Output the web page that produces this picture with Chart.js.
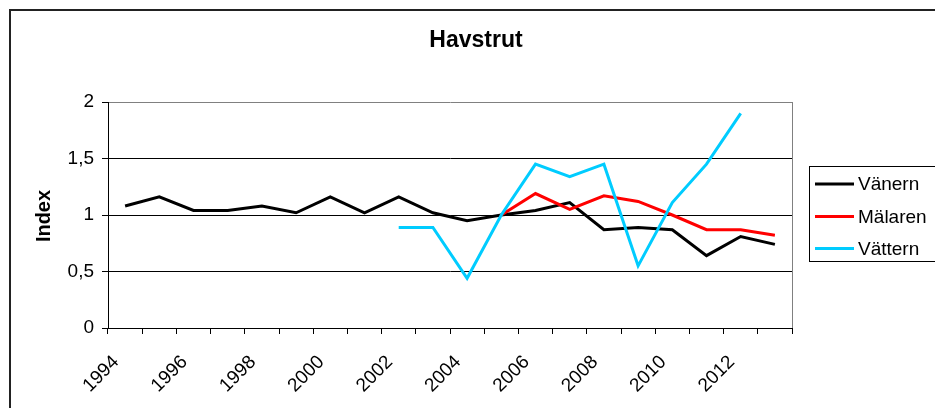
<!DOCTYPE html>
<html>
<head>
<meta charset="utf-8">
<script src="https://cdn.jsdelivr.net/npm/chart.js@4/dist/chart.umd.min.js"></script>
<style>
  html, body { margin: 0; padding: 0; background: #fff; }
  #wrap { width: 935px; height: 408px; }
</style>
</head>
<body>
<div id="wrap"><canvas id="havstrutChart" width="935" height="408"></canvas></div>
<script>
// Havstrut - index per sjö, 1994-2013

var years = ['1994', '1995', '1996', '1997', '1998', '1999', '2000', '2001', '2002', '2003',
             '2004', '2005', '2006', '2007', '2008', '2009', '2010', '2011', '2012', '2013'];

var vanern = [1.08, 1.16, 1.04, 1.04, 1.08, 1.02, 1.16, 1.02, 1.16, 1.02,
              0.95, 1.00, 1.04, 1.11, 0.87, 0.89, 0.87, 0.64, 0.81, 0.74];

var malaren = [null, null, null, null, null, null, null, null, null, null,
               null, 1.00, 1.19, 1.05, 1.17, 1.12, 1.00, 0.87, 0.87, 0.82];

var vattern = [null, null, null, null, null, null, null, null, 0.89, 0.89,
               0.44, 1.00, 1.45, 1.34, 1.45, 0.55, 1.11, 1.45, 1.90, null];

var seriesNames = ['Vänern', 'Mälaren', 'Vättern'];
var seriesColors = ['#000000', '#ff0000', '#00ccff'];
var yTicks = [0, 0.5, 1, 1.5, 2];

var FONT = "'Liberation Sans', Arial, sans-serif";

// ram, titel, y-axelns titel och förklaring
var decorPlugin = {
    id: 'decor',
    afterDraw: function (chart) {
        var ctx = chart.ctx;
        var area = chart.chartArea;
        ctx.save();

        // plotytans högra kant
        ctx.strokeStyle = '#808080';
        ctx.lineWidth = 1;
        ctx.beginPath();
        ctx.moveTo(area.right + 0.5, area.top);
        ctx.lineTo(area.right + 0.5, area.bottom);
        ctx.stroke();

        // yttre ram
        ctx.strokeStyle = '#222';
        ctx.lineWidth = 2;
        ctx.strokeRect(10, 10, 1000, 1000);

        // titel
        ctx.fillStyle = '#000';
        ctx.font = 'bold 23px ' + FONT;
        ctx.textAlign = 'center';
        ctx.textBaseline = 'middle';
        ctx.fillText('Havstrut', 476, 41);

        // y-axelns titel
        ctx.save();
        ctx.translate(44, 216);
        ctx.rotate(-Math.PI / 2);
        ctx.font = 'bold 20px ' + FONT;
        ctx.fillText('Index', 0, 0);
        ctx.restore();

        // förklaring
        ctx.strokeStyle = '#000';
        ctx.lineWidth = 1;
        ctx.strokeRect(809.5, 166.5, 200, 95);
        ctx.font = '19px ' + FONT;
        ctx.textAlign = 'left';
        var rows = [184, 216.5, 248.5];
        chart.data.datasets.forEach(function (ds, i) {
            ctx.strokeStyle = ds.borderColor;
            ctx.lineWidth = 3;
            ctx.beginPath();
            ctx.moveTo(815, rows[i]);
            ctx.lineTo(854, rows[i]);
            ctx.stroke();
            ctx.fillStyle = '#000';
            ctx.fillText(ds.label, 858, rows[i] + 1);
        });

        ctx.restore();
    }
};

new Chart(document.getElementById('havstrutChart'), {
    type: 'line',
    data: {
        labels: years,
        datasets: [
            { label: seriesNames[0], data: vanern, borderColor: seriesColors[0], order: 2 },
            { label: seriesNames[1], data: malaren, borderColor: seriesColors[1], order: 1 },
            { label: seriesNames[2], data: vattern, borderColor: seriesColors[2], order: 0 }
        ]
    },
    options: {
        responsive: false,
        animation: false,
        layout: { padding: { left: 0, top: 102, right: 143, bottom: 0 } },
        elements: {
            line: { borderWidth: 3, tension: 0, fill: false },
            point: { radius: 0, hoverRadius: 0 }
        },
        plugins: {
            legend: { display: false },
            title: { display: false },
            tooltip: { enabled: false }
        },
        scales: {
            x: {
                type: 'category',
                offset: true,
                afterFit: function (scale) { scale.height = 80; },
                grid: {
                    offset: true,
                    drawOnChartArea: false,
                    tickLength: 6,
                    color: '#000'
                },
                border: { color: '#000', width: 1 },
                ticks: {
                    autoSkip: false,
                    minRotation: 45,
                    maxRotation: 45,
                    padding: 17,
                    labelOffset: -9,
                    color: '#000',
                    font: { family: FONT, size: 19 },
                    callback: function (v, i) { return i % 2 === 0 ? years[i] : ''; }
                }
            },
            y: {
                min: 0,
                max: 2,
                afterFit: function (scale) { scale.width = 108; },
                afterBuildTicks: function (scale) {
                    scale.ticks = yTicks.map(function (v) { return { value: v }; });
                },
                grid: {
                    color: function (c) { return c.tick && c.tick.value === 2 ? '#808080' : '#000'; },
                    tickColor: '#000',
                    tickLength: 6
                },
                border: { color: '#000', width: 1 },
                ticks: {
                    padding: 8,
                    color: '#000',
                    font: { family: FONT, size: 19 },
                    callback: function (v) { return String(v).replace('.', ','); }
                }
            }
        }
    },
    plugins: [decorPlugin]
});
</script>
</body>
</html>
